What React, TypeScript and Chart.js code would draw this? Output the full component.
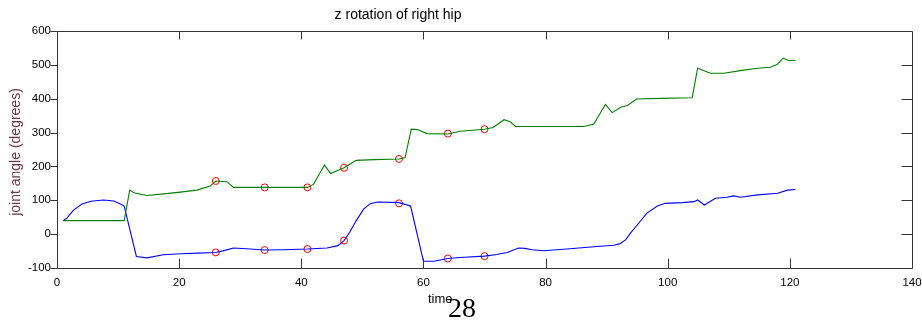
import React, { useEffect, useRef } from "react";
import { Chart, registerables } from "chart.js";

Chart.register(...registerables);

const TITLE = "z rotation of right hip";
const Y_LABEL = "joint angle (degrees)";
const X_LABEL = "time";
const PAGE_NO = "28";

const greenT = [1, 11, 11.9, 12.6, 14.7, 17.5, 20.2, 22.9, 25.1, 26, 27.8, 28.9, 34, 41, 42, 43.8, 44.8, 47, 48, 49, 52, 56, 57, 58, 59, 60.6, 64, 66, 70, 71.4, 73.2, 74.2, 75.1, 86.3, 87.9, 89.8, 90.9, 92.3, 93.4, 94.9, 98.9, 104, 104.9, 107, 109.2, 111.9, 114.7, 116.8, 117.9, 118.9, 119.8, 120.9];
const greenV = [40, 40, 130, 122, 114, 119, 124, 130, 142, 157, 155, 138, 138, 138, 147, 204, 179, 196, 207, 218, 220, 222, 226, 310, 309, 297, 296, 304, 310, 315, 338, 332, 318, 318, 325, 383, 359, 375, 380, 399, 401, 403, 490, 475, 475, 483, 490, 493, 501, 520, 513, 513];

const blueT = [1, 1.6, 2.7, 4.1, 5.5, 7.6, 9.3, 10.4, 11, 13, 14.7, 17.4, 20.2, 23, 26, 27.5, 28.9, 31, 34, 37, 41, 44.2, 46, 47, 48, 49, 50.2, 51.3, 52.5, 56, 57.9, 60, 61.7, 64, 66, 70, 72, 73.7, 75.6, 76.6, 77.8, 79.7, 83.5, 87.4, 91.2, 92.2, 93.1, 94, 95, 96.6, 98.3, 99.6, 102.4, 104.3, 104.9, 106, 107.8, 109.7, 110.8, 111.9, 114.7, 118, 119.6, 120.9];
const blueV = [40, 47, 71, 89, 97, 101, 98, 89, 83, -66, -70, -61, -58, -56, -54, -48, -41, -43, -47, -46, -44, -41, -34, -19, 8, 40, 74, 90, 95, 93, 83, -80, -80, -72, -69, -65, -60, -54, -41, -42, -46, -49, -44, -38, -33, -28, -17, 5, 27, 62, 83, 91, 93, 96, 101, 86, 106, 109, 113, 109, 116, 121, 130, 132];

const markerT = [26, 34, 41, 47, 56, 64, 70];
const markerGreen = [157, 138, 138, 196, 222, 297, 310];
const markerBlue = [-54, -47, -44, -19, 91, -72, -65];

const xTickValues = [0, 20, 40, 60, 80, 100, 120, 140];
const yTickValues = [-100, 0, 100, 200, 300, 400, 500, 600];

const AXIS_COLOR = "#333333";
const SANS = "'Liberation Sans', Arial, sans-serif";

const framePlugin = {
  id: "frame",
  afterDraw(chart: any) {
    const { ctx, chartArea: a } = chart;
    const x = chart.scales.x;
    const y = chart.scales.y;
    const L = Math.round(a.left) + 0.5;
    const R = Math.round(a.right) + 0.5;
    const T = Math.round(a.top) + 0.5;
    const B = Math.round(a.bottom) + 0.5;
    ctx.save();
    ctx.strokeStyle = AXIS_COLOR;
    ctx.lineWidth = 1;
    ctx.beginPath();
    ctx.rect(L, T, R - L, B - T);
    // x ticks (inward, bottom and top)
    for (const v of xTickValues) {
      const px = Math.round(x.getPixelForValue(v)) + 0.5;
      if (v === xTickValues[0] || v === xTickValues[xTickValues.length - 1]) continue;
      ctx.moveTo(px, B);
      ctx.lineTo(px, B - 10);
      ctx.moveTo(px, T);
      ctx.lineTo(px, T + 8);
    }
    // y ticks: outward on left, inward on right
    for (const v of yTickValues) {
      const py = Math.round(y.getPixelForValue(v)) + 0.5;
      ctx.moveTo(L, py);
      ctx.lineTo(L - 7, py);
      if (v === yTickValues[0] || v === yTickValues[yTickValues.length - 1]) continue;
      ctx.moveTo(R, py);
      ctx.lineTo(R - 11, py);
    }
    ctx.stroke();

    // title
    ctx.fillStyle = "#000";
    ctx.font = `14px ${SANS}`;
    ctx.textAlign = "center";
    ctx.textBaseline = "middle";
    ctx.fillText(TITLE, 398, 15);

    // y label
    ctx.save();
    ctx.translate(16, 152);
    ctx.rotate(-Math.PI / 2);
    ctx.fillStyle = "#6b3346";
    ctx.font = `14px ${SANS}`;
    ctx.textAlign = "center";
    ctx.textBaseline = "middle";
    ctx.fillText(Y_LABEL, 0, 0);
    ctx.restore();

    // x label
    ctx.fillStyle = "#000";
    ctx.font = `13px ${SANS}`;
    ctx.textAlign = "left";
    ctx.textBaseline = "alphabetic";
    ctx.fillText(X_LABEL, 428, 303);

    // page number
    ctx.font = `28px 'Liberation Serif', 'Times New Roman', serif`;
    ctx.textAlign = "left";
    ctx.textBaseline = "alphabetic";
    ctx.fillText(PAGE_NO, 448, 317);
    ctx.restore();
  },
};

export default function App() {
  const ref = useRef<HTMLCanvasElement | null>(null);

  useEffect(() => {
    document.body.style.margin = "0";
    const canvas = ref.current;
    if (!canvas) return;
    const green = greenT.map((t, i) => ({ x: t, y: greenV[i] }));
    const blue = blueT.map((t, i) => ({ x: t, y: blueV[i] }));
    const markers = [
      ...markerT.map((t, i) => ({ x: t, y: markerGreen[i] })),
      ...markerT.map((t, i) => ({ x: t, y: markerBlue[i] })),
    ];
    const chart = new Chart(canvas, {
      type: "line",
      data: {
        datasets: [
          {
            data: green,
            borderColor: "#008000",
            borderWidth: 1.1,
            pointRadius: 0,
            fill: false,
            tension: 0,
          },
          {
            data: blue,
            borderColor: "#0000ff",
            borderWidth: 1.1,
            pointRadius: 0,
            fill: false,
            tension: 0,
          },
          {
            data: markers,
            showLine: false,
            pointStyle: "circle",
            pointRadius: 3.5,
            pointBorderColor: "#ff0000",
            pointBackgroundColor: "rgba(0,0,0,0)",
            pointBorderWidth: 1,
          } as any,
        ],
      },
      options: {
        responsive: false,
        animation: false,
        devicePixelRatio: 1,
        layout: { padding: { left: 0, right: 10, top: 31, bottom: 0 } },
        plugins: {
          legend: { display: false },
          tooltip: { enabled: false },
          title: { display: false },
        },
        scales: {
          x: {
            type: "linear",
            min: 0,
            max: 140,
            grid: { display: false, drawTicks: false },
            border: { display: false },
            afterBuildTicks: (s: any) => {
              s.ticks = xTickValues.map((v) => ({ value: v }));
            },
            afterFit: (s: any) => {
              s.height = 52;
              s.paddingLeft = 0;
              s.paddingRight = 0;
            },
            ticks: {
              autoSkip: false,
              maxRotation: 0,
              padding: 8,
              color: "#000",
              font: { family: SANS, size: 11.5 },
            },
          },
          y: {
            type: "linear",
            min: -100,
            max: 600,
            grid: { display: false, drawTicks: false },
            border: { display: false },
            afterBuildTicks: (s: any) => {
              s.ticks = yTickValues.map((v) => ({ value: v }));
            },
            afterFit: (s: any) => {
              s.width = 57;
              s.paddingTop = 0;
              s.paddingBottom = 0;
            },
            ticks: {
              padding: 6,
              color: "#000",
              font: { family: SANS, size: 11.5 },
            },
          },
        },
      },
      plugins: [framePlugin],
    });
    return () => chart.destroy();
  }, []);

  return (
    <div style={{ width: 922, height: 320, background: "#fff" }}>
      <canvas ref={ref} width={922} height={320} style={{ display: "block" }} />
    </div>
  );
}
